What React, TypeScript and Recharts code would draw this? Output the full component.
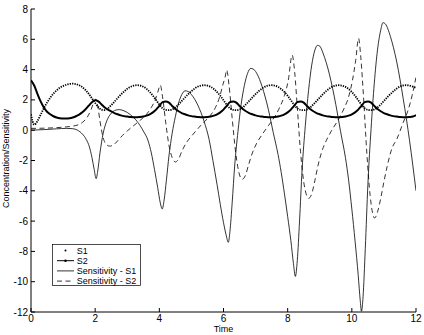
import { Legend, Line, LineChart, XAxis, YAxis } from "recharts"

const FONT = '"Liberation Sans", Arial, sans-serif'

// sample times for the two concentrations
const time = [
  0, 0.1, 0.2, 0.3, 0.4, 0.5, 0.6, 0.7, 0.8, 0.9, 1, 1.1, 1.2, 1.3, 1.4, 1.5, 1.6, 1.7, 1.8, 1.9,
  2, 2.1, 2.2, 2.3, 2.4, 2.5, 2.6, 2.7, 2.8, 2.9, 3, 3.1, 3.2, 3.3, 3.4, 3.5, 3.6, 3.7, 3.8, 3.9,
  4, 4.1, 4.2, 4.3, 4.4, 4.5, 4.6, 4.7, 4.8, 4.9, 5, 5.1, 5.2, 5.3, 5.4, 5.5, 5.6, 5.7, 5.8, 5.9,
  6, 6.1, 6.2, 6.3, 6.4, 6.5, 6.6, 6.7, 6.8, 6.9, 7, 7.1, 7.2, 7.3, 7.4, 7.5, 7.6, 7.7, 7.8, 7.9,
  8, 8.1, 8.2, 8.3, 8.4, 8.5, 8.6, 8.7, 8.8, 8.9, 9, 9.1, 9.2, 9.3, 9.4, 9.5, 9.6, 9.7, 9.8, 9.9,
  10, 10.1, 10.2, 10.3, 10.4, 10.5, 10.6, 10.7, 10.8, 10.9, 11, 11.1, 11.2, 11.3, 11.4, 11.5, 11.6, 11.7, 11.8, 11.9,
  12,
]

const s1 = [
  1.05, 0.36, 0.6, 1.02, 1.45, 1.82, 2.15, 2.42, 2.63, 2.8, 2.92, 3.0, 3.05, 3.07, 3.04, 2.97, 2.84, 2.65, 2.4, 2.1,
  1.8, 1.52, 1.35, 1.33, 1.45, 1.65, 1.88, 2.12, 2.35, 2.55, 2.73, 2.86, 2.94, 2.97, 2.95, 2.87, 2.73, 2.53, 2.28, 1.99,
  1.69, 1.45, 1.34, 1.32, 1.37, 1.5, 1.7, 1.93, 2.16, 2.38, 2.58, 2.75, 2.88, 2.95, 2.97, 2.94, 2.86, 2.72, 2.52, 2.27,
  1.98, 1.68, 1.45, 1.34, 1.32, 1.37, 1.5, 1.7, 1.93, 2.16, 2.38, 2.58, 2.75, 2.88, 2.95, 2.97, 2.94, 2.86, 2.72, 2.52,
  2.27, 1.98, 1.68, 1.45, 1.34, 1.32, 1.37, 1.5, 1.7, 1.93, 2.16, 2.38, 2.58, 2.75, 2.88, 2.95, 2.97, 2.94, 2.86, 2.72,
  2.52, 2.27, 1.98, 1.68, 1.45, 1.34, 1.32, 1.37, 1.5, 1.7, 1.93, 2.16, 2.38, 2.58, 2.75, 2.88, 2.95, 2.97, 2.94, 2.88,
  2.8,
]

const s2 = [
  3.3, 2.95, 2.4, 1.9, 1.5, 1.22, 1.05, 0.92, 0.84, 0.79, 0.77, 0.77, 0.79, 0.84, 0.92, 1.03, 1.18, 1.38, 1.62, 1.85,
  1.98, 1.9, 1.7, 1.5, 1.36, 1.25, 1.13, 1.05, 0.98, 0.93, 0.9, 0.87, 0.86, 0.86, 0.87, 0.9, 0.96, 1.05, 1.18, 1.36,
  1.6, 1.85, 1.9, 1.82, 1.6, 1.4, 1.25, 1.13, 1.05, 0.98, 0.93, 0.9, 0.87, 0.86, 0.86, 0.87, 0.9, 0.96, 1.05, 1.18,
  1.36, 1.6, 1.85, 1.9, 1.82, 1.6, 1.4, 1.25, 1.13, 1.05, 0.98, 0.93, 0.9, 0.87, 0.86, 0.86, 0.87, 0.9, 0.96, 1.05,
  1.18, 1.36, 1.6, 1.85, 1.9, 1.82, 1.6, 1.4, 1.25, 1.13, 1.05, 0.98, 0.93, 0.9, 0.87, 0.86, 0.86, 0.87, 0.9, 0.96,
  1.05, 1.18, 1.36, 1.6, 1.85, 1.9, 1.82, 1.6, 1.4, 1.25, 1.13, 1.05, 0.98, 0.93, 0.9, 0.87, 0.86, 0.86, 0.87, 0.9,
  1.0,
]

const sens1Time = [
  0, 0.4, 0.8, 1.1, 1.3, 1.45, 1.6, 1.72, 1.82, 1.9, 1.97, 2.03, 2.08, 2.15, 2.25, 2.35, 2.45, 2.55, 2.65, 2.75,
  2.9, 3.1, 3.3, 3.5, 3.65, 3.75, 3.85, 3.95, 4.03, 4.09, 4.15, 4.22, 4.3, 4.4, 4.5, 4.6, 4.7, 4.8, 4.9, 5.0,
  5.2, 5.4, 5.55, 5.67, 5.8, 5.9, 6.0, 6.08, 6.15, 6.2, 6.27, 6.35, 6.45, 6.55, 6.65, 6.75, 6.85, 6.95, 7.05, 7.2,
  7.4, 7.55, 7.7, 7.8, 7.9, 8.0, 8.1, 8.18, 8.24, 8.3, 8.37, 8.45, 8.55, 8.65, 8.75, 8.85, 8.93, 9.0, 9.1, 9.3,
  9.5, 9.65, 9.8, 9.9, 10.0, 10.1, 10.2, 10.26, 10.3, 10.35, 10.42, 10.5, 10.6, 10.7, 10.8, 10.9, 10.97, 11.05, 11.2, 11.4,
  11.6, 11.8, 12.0,
]
const sens1 = [
  0, 0.04, 0.09, 0.12, 0.1, 0.0, -0.25, -0.6, -1.1, -1.8, -2.6, -3.2, -2.7, -1.5, -0.2, 0.55, 0.98, 1.22, 1.33, 1.36,
  1.28, 1.02, 0.6, -0.05, -0.7, -1.5, -2.6, -3.8, -4.8, -5.2, -4.6, -3.3, -1.7, -0.2, 0.9, 1.8, 2.35, 2.6, 2.55, 2.35,
  1.65, 0.55, -0.6, -2.0, -3.6, -4.9, -6.1, -6.9, -7.4, -6.7, -4.8, -2.3, -0.1, 1.7, 2.95, 3.75, 4.08, 4.0, 3.7, 2.9,
  1.35, -0.15, -1.6, -2.8, -4.2, -5.7, -7.3, -8.8, -9.65, -8.6, -6.0, -2.6, 0.3, 2.6, 4.3, 5.3, 5.6, 5.55, 5.1, 3.7,
  1.7, -0.1, -1.8, -3.3, -5.2, -7.3, -9.6, -11.2, -11.95, -11.0, -7.8, -3.6, 0.1, 3.1, 5.3, 6.6, 7.1, 7.0, 6.2, 4.5,
  2.1, -0.7, -4.0,
]

const sens2Time = [
  0, 0.5, 1.0, 1.3, 1.5, 1.65, 1.78, 1.88, 1.96, 2.02, 2.08, 2.15, 2.25, 2.35, 2.45, 2.55, 2.7, 2.85, 3.0, 3.2,
  3.4, 3.6, 3.75, 3.87, 3.95, 4.03, 4.1, 4.2, 4.3, 4.4, 4.5, 4.6, 4.7, 4.85, 5.0, 5.2, 5.4, 5.6, 5.75, 5.88,
  5.98, 6.05, 6.1, 6.17, 6.27, 6.37, 6.47, 6.58, 6.68, 6.78, 6.9, 7.05, 7.2, 7.4, 7.6, 7.75, 7.9, 8.02, 8.14, 8.22,
  8.3, 8.4, 8.5, 8.6, 8.65, 8.75, 8.85, 8.95, 9.05, 9.2, 9.35, 9.55, 9.75, 9.9, 10.02, 10.12, 10.21, 10.28, 10.37, 10.47,
  10.57, 10.65, 10.71, 10.8, 10.9, 11.0, 11.1, 11.25, 11.4, 11.6, 11.75, 11.88, 12.0,
]
const sens2 = [
  0.12, 0.14, 0.2, 0.27, 0.38, 0.6, 0.95, 1.4, 1.85, 2.05, 1.6, 0.6, -0.5, -0.95, -1.05, -1.0, -0.7, -0.35, -0.05, 0.3,
  0.65, 1.05, 1.5, 2.0, 2.5, 2.97, 2.2, 0.5, -1.0, -1.8, -2.1, -1.9, -1.4, -0.8, -0.4, 0.1, 0.55, 1.0, 1.5, 2.2,
  3.0, 3.5, 3.97, 3.0, 0.8, -1.3, -2.7, -3.24, -3.0, -2.3, -1.5, -0.8, -0.3, 0.3, 0.9, 1.5, 2.3, 3.3, 4.96, 3.8,
  1.5, -1.4, -3.4, -4.35, -4.5, -4.2, -3.3, -2.3, -1.5, -0.7, -0.1, 0.6, 1.4, 2.2, 3.3, 4.6, 6.06, 4.8, 2.0, -1.6,
  -4.3, -5.5, -5.8, -5.4, -4.5, -3.4, -2.4, -1.2, -0.6, 0.5, 1.3, 2.3, 3.5,
]

const seriesNames = ["S1", "S2", "Sensitivity - S1", "Sensitivity - S2"]
const xTicks = [0, 2, 4, 6, 8, 10, 12]
const yTicks = [-12, -10, -8, -6, -4, -2, 0, 2, 4, 6, 8]

const rows = (ts: number[], vs: number[]) => ts.map((t, i) => ({ t, v: vs[i] }))

const s1Rows = rows(time, s1)
const s2Rows = rows(time, s2)
const sens1Rows = rows(sens1Time, sens1)
const sens2Rows = rows(sens2Time, sens2)

const tickStyle = { fill: "#000", fontSize: 10, fontFamily: FONT }

function LegendBox() {
  const rowY = [6.5, 16.7, 26.9, 37.1]
  return (
    <svg width={89} height={42} style={{ display: "block" }}>
      <rect x={0.5} y={0.5} width={88} height={41} fill="#fff" stroke="#000" strokeWidth={0.7} />
      <circle cx={13.5} cy={rowY[0]} r={1} fill="#000" />
      <line x1={5} x2={22} y1={rowY[1]} y2={rowY[1]} stroke="#000" strokeWidth={1} />
      <circle cx={13.5} cy={rowY[1]} r={1.3} fill="#000" />
      <line x1={5} x2={22} y1={rowY[2]} y2={rowY[2]} stroke="#000" strokeWidth={0.8} />
      <line x1={5} x2={22} y1={rowY[3]} y2={rowY[3]} stroke="#000" strokeWidth={0.8} strokeDasharray="5 3.5" />
      {seriesNames.map((name, i) => (
        <text key={name} x={24.7} y={rowY[i] + 3.2} fontSize={9} fontFamily={FONT} fill="#000">
          {name}
        </text>
      ))}
    </svg>
  )
}

export default function App() {
  return (
    <div style={{ position: "absolute", left: 0, top: 0, background: "#fff" }}>
      <LineChart width={424} height={335} margin={{ top: 9, right: 8, bottom: 0, left: 0 }}>
        <XAxis
          type="number"
          dataKey="t"
          domain={[0, 12]}
          ticks={xTicks}
          allowDataOverflow
          height={23}
          tickSize={-4}
          tickMargin={7}
          stroke="#000"
          tick={tickStyle}
          label={{ value: "Time", position: "insideBottom", offset: 3, fontSize: 9, fontFamily: FONT, fill: "#000" }}
        />
        <XAxis
          xAxisId="top"
          orientation="top"
          type="number"
          dataKey="t"
          domain={[0, 12]}
          ticks={xTicks}
          allowDataOverflow
          height={0}
          tickSize={-4}
          tick={false}
          stroke="#000"
        />
        <YAxis
          type="number"
          domain={[-12, 8]}
          ticks={yTicks}
          allowDataOverflow
          width={31}
          tickSize={-4}
          tickMargin={7}
          stroke="#000"
          tick={tickStyle}
          label={{
            content: (props: any) => {
              const vb = props.viewBox || { x: 0, y: 9, height: 303 }
              const cx = vb.x + 9
              const cy = vb.y + vb.height / 2 - 2
              return (
                <text
                  x={cx}
                  y={cy}
                  transform={`rotate(-90 ${cx} ${cy})`}
                  textAnchor="middle"
                  fontSize={9}
                  fontFamily={FONT}
                  fill="#000"
                >
                  Concentration/Sensitivity
                </text>
              )
            },
          }}
        />
        <YAxis
          yAxisId="right"
          orientation="right"
          type="number"
          domain={[-12, 8]}
          ticks={yTicks}
          allowDataOverflow
          width={0}
          tickSize={-4}
          tick={false}
          stroke="#000"
        />
        <Line
          data={sens1Rows}
          dataKey="v"
          name={seriesNames[2]}
          type="monotone"
          stroke="#000"
          strokeWidth={0.8}
          dot={false}
          isAnimationActive={false}
        />
        <Line
          data={sens2Rows}
          dataKey="v"
          name={seriesNames[3]}
          type="monotone"
          stroke="#000"
          strokeWidth={0.8}
          strokeDasharray="5 3.5"
          dot={false}
          isAnimationActive={false}
        />
        <Line
          data={s1Rows}
          dataKey="v"
          name={seriesNames[0]}
          type="monotone"
          stroke="#000"
          strokeWidth={1.8}
          strokeDasharray="1.3 1.1"
          dot={false}
          isAnimationActive={false}
        />
        <Line
          data={s2Rows}
          dataKey="v"
          name={seriesNames[1]}
          type="monotone"
          stroke="#000"
          strokeWidth={2}
          dot={false}
          isAnimationActive={false}
        />
        <Legend
          layout="horizontal"
          verticalAlign="middle"
          align="center"
          width={89}
          height={42}
          wrapperStyle={{ left: 52, top: 244, width: 89, height: 42 }}
          content={() => <LegendBox />}
        />
      </LineChart>
    </div>
  )
}
